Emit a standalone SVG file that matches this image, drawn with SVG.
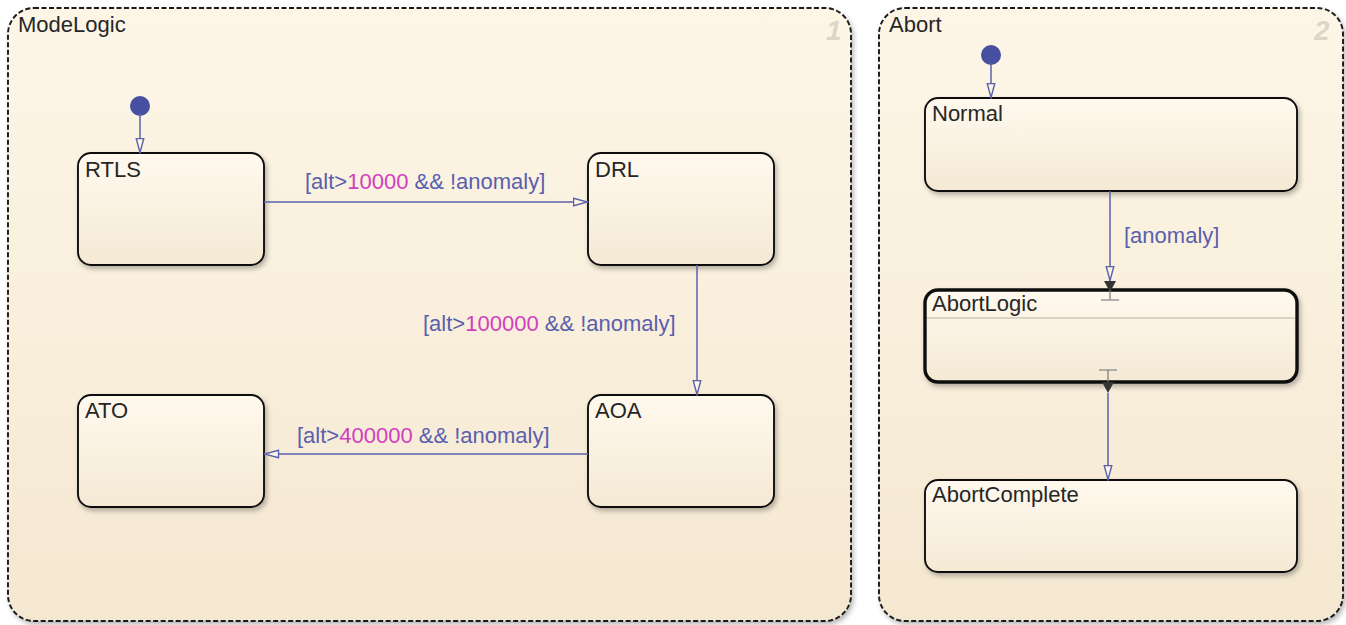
<svg xmlns="http://www.w3.org/2000/svg" width="1346" height="625" viewBox="0 0 1346 625">
<defs>
<linearGradient id="chartG" x1="0" y1="0" x2="0" y2="1"><stop offset="0" stop-color="#fdf6e7"/><stop offset="1" stop-color="#f5e8d1"/></linearGradient>
<linearGradient id="stateG" x1="0" y1="0" x2="0" y2="1"><stop offset="0" stop-color="#fff9ee"/><stop offset="1" stop-color="#f5e9d4"/></linearGradient>
<filter id="sh" x="-10%" y="-10%" width="125%" height="130%"><feDropShadow dx="2" dy="3" stdDeviation="2.5" flood-color="#000" flood-opacity="0.28"/></filter>
<marker id="open" viewBox="0 0 16 10" refX="15.5" refY="5" markerWidth="16" markerHeight="10" markerUnits="userSpaceOnUse" orient="auto"><path d="M1,1.2 L15,5 L1,8.8 Z" fill="#fdf6e7" stroke="#5a62ad" stroke-width="1.4"/></marker>
</defs>
<style>
.chart{fill:url(#chartG);stroke:#1a1a1a;stroke-width:1.9;stroke-dasharray:5 2.5;filter:url(#sh)}
.state{fill:url(#stateG);stroke:#111;stroke-width:1.9;filter:url(#sh)}
.thick{stroke-width:3.4}
.t{font-family:"Liberation Sans",Arial,sans-serif;font-size:22px;fill:#262626}
.num{font-family:"Liberation Sans",Arial,sans-serif;font-size:28px;font-style:italic;font-weight:bold;fill:#ddd5c6}
.lbl{font-family:"Liberation Sans",Arial,sans-serif;font-size:22px;fill:#5a5fae}
.mg{fill:#d13fbf}
.tr{fill:none;stroke:#5a62ad;stroke-width:1.5;marker-end:url(#open)}
.dot{fill:#464fa0}
</style>
<g id="ModeLogic">
<rect class="chart" x="8" y="8" width="843" height="613" rx="26"/>
<text class="t" x="18" y="32">ModeLogic</text>
<text class="num" x="826" y="40">1</text>
</g>
<g id="Abort">
<rect class="chart" x="879" y="8" width="464" height="613" rx="26"/>
<text class="t" x="889" y="32">Abort</text>
<text class="num" x="1314" y="40">2</text>
</g>
<g id="RTLS"><rect class="state" x="78" y="153" width="186" height="112" rx="13"/><text class="t" x="85" y="177">RTLS</text></g>
<g id="DRL"><rect class="state" x="588" y="153" width="186" height="112" rx="13"/><text class="t" x="595" y="177">DRL</text></g>
<g id="AOA"><rect class="state" x="588" y="395" width="186" height="112" rx="13"/><text class="t" x="595" y="418">AOA</text></g>
<g id="ATO"><rect class="state" x="78" y="395" width="186" height="112" rx="13"/><text class="t" x="85" y="418">ATO</text></g>
<g id="Normal"><rect class="state" x="925" y="98" width="372" height="93" rx="13"/><text class="t" x="932" y="121">Normal</text></g>
<g id="AbortLogic"><rect class="state thick" x="925" y="290" width="372" height="92" rx="13"/><line x1="927" y1="318" x2="1295" y2="318" stroke="#bdb3a3" stroke-width="1"/><text class="t" x="932" y="311">AbortLogic</text></g>
<g id="AbortComplete"><rect class="state" x="925" y="480" width="372" height="92" rx="13"/><text class="t" x="932" y="502">AbortComplete</text></g>
<g id="connectors">
<circle class="dot" cx="140" cy="106" r="10"/>
<line class="tr" x1="140" y1="114" x2="140" y2="153"/>
<circle class="dot" cx="991" cy="55" r="10"/>
<line class="tr" x1="991" y1="63" x2="991" y2="98"/>
<line class="tr" x1="264" y1="202" x2="588" y2="202"/>
<text class="lbl" x="305" y="189">[alt&gt;<tspan class="mg">10000</tspan> &amp;&amp; !anomaly]</text>
<line class="tr" x1="697" y1="265" x2="697" y2="395"/>
<text class="lbl" x="423" y="331">[alt&gt;<tspan class="mg">100000</tspan> &amp;&amp; !anomaly]</text>
<line class="tr" x1="588" y1="454" x2="264" y2="454"/>
<text class="lbl" x="297" y="443">[alt&gt;<tspan class="mg">400000</tspan> &amp;&amp; !anomaly]</text>
<line class="tr" x1="1110" y1="191" x2="1110" y2="281"/>
<text class="lbl" x="1124" y="243">[anomaly]</text>
<path d="M1104,281 L1116,281 L1110,292 Z" fill="#333"/>
<line x1="1110" y1="290" x2="1110" y2="300" stroke="#777" stroke-width="1.2"/>
<line x1="1101" y1="300" x2="1119" y2="300" stroke="#999" stroke-width="1.5"/>
<line x1="1099" y1="370" x2="1117" y2="370" stroke="#999" stroke-width="1.5"/>
<line x1="1108" y1="370" x2="1108" y2="382" stroke="#777" stroke-width="1.2"/>
<path d="M1102,382 L1114,382 L1108,393 Z" fill="#333"/>
<line class="tr" x1="1108" y1="393" x2="1108" y2="480"/>
</g>
</svg>
